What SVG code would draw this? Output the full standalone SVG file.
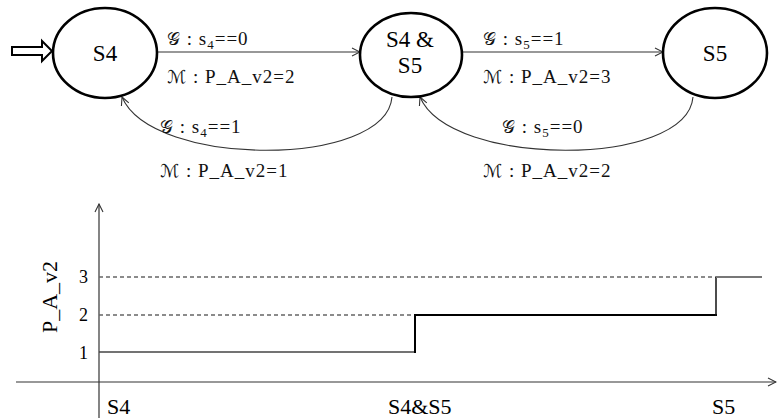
<svg xmlns="http://www.w3.org/2000/svg" width="778" height="418" viewBox="0 0 778 418">
<style>
.node ellipse{fill:#fff;stroke:#000;stroke-width:2.6}
.nt{font-family:'Liberation Serif','Times New Roman',Times,'DejaVu Serif',serif;font-size:23px;fill:#000;text-anchor:middle}
.lb{font-family:'Liberation Serif','Times New Roman',Times,'DejaVu Serif',serif;font-size:19px;fill:#111;letter-spacing:1px}
.sym{font-family:'DejaVu Serif','DejaVu Sans',serif;font-size:18px;font-weight:normal}
.sub{font-size:13px}
.edge{fill:none;stroke:#333;stroke-width:1.1}
.ax{fill:none;stroke:#333;stroke-width:1.2}
.dash{fill:none;stroke:#666;stroke-width:1.5;stroke-dasharray:4 3}
.tk{font-family:'Liberation Serif','Times New Roman',Times,'DejaVu Serif',serif;font-size:18px;fill:#000}
.xl{font-family:'Liberation Serif','Times New Roman',Times,'DejaVu Serif',serif;font-size:22px;fill:#000}
</style>
<defs>
<marker id="ah" markerWidth="10" markerHeight="10" refX="9" refY="5" orient="auto" markerUnits="userSpaceOnUse">
<path d="M1,1 L9,5 L1,9" fill="none" stroke="#333" stroke-width="1.1"/>
</marker>
</defs>

<g id="start">
<polygon points="12,47 42,47 42,41 52,51 42,61 42,55 12,55" fill="#fff" stroke="#000" stroke-width="2"/>
</g>

<g id="connectors">
<path id="e1" class="edge" d="M157,52 L360,52" marker-end="url(#ah)"/>
<path id="e2" class="edge" d="M462,52 L663,52" marker-end="url(#ah)"/>
<path id="e3" class="edge" d="M392,97 C386,168 152,168 122,97" marker-end="url(#ah)"/>
<path id="e4" class="edge" d="M693,97 C687,168 450,168 420,97" marker-end="url(#ah)"/>
</g>

<g id="node-s4" class="node">
<ellipse cx="105" cy="53" rx="52" ry="45"/>
<text class="nt" x="105" y="61">S4</text>
</g>
<g id="node-s4s5" class="node">
<ellipse cx="411" cy="55" rx="51" ry="42"/>
<text class="nt" x="410" y="47">S4 &amp;</text>
<text class="nt" x="410" y="73">S5</text>
</g>
<g id="node-s5" class="node">
<ellipse cx="715" cy="53" rx="52" ry="45"/>
<text class="nt" x="715" y="61">S5</text>
</g>

<g id="labels">
<text class="lb" x="167" y="45"><tspan class="sym">𝒢</tspan> : s<tspan class="sub" dy="4">4</tspan><tspan dy="-4">==0</tspan></text>
<text class="lb" x="167" y="83"><tspan class="sym">ℳ</tspan> : P_A_v2=2</text>
<text class="lb" x="160" y="133"><tspan class="sym">𝒢</tspan> : s<tspan class="sub" dy="4">4</tspan><tspan dy="-4">==1</tspan></text>
<text class="lb" x="160" y="177"><tspan class="sym">ℳ</tspan> : P_A_v2=1</text>
<text class="lb" x="483" y="45"><tspan class="sym">𝒢</tspan> : s<tspan class="sub" dy="4">5</tspan><tspan dy="-4">==1</tspan></text>
<text class="lb" x="483" y="83"><tspan class="sym">ℳ</tspan> : P_A_v2=3</text>
<text class="lb" x="502" y="133"><tspan class="sym">𝒢</tspan> : s<tspan class="sub" dy="4">5</tspan><tspan dy="-4">==0</tspan></text>
<text class="lb" x="483" y="177"><tspan class="sym">ℳ</tspan> : P_A_v2=2</text>
</g>

<g id="chart">
<line class="ax" x1="99" y1="418" x2="99" y2="204" marker-end="url(#ah)"/>
<line class="ax" x1="16" y1="382" x2="776" y2="382" marker-end="url(#ah)"/>
<line class="dash" x1="99" y1="277" x2="716" y2="277"/>
<line class="dash" x1="99" y1="315" x2="415" y2="315"/>
<line x1="99" y1="352" x2="415" y2="352" stroke="#444" stroke-width="1.4"/>
<line x1="415" y1="353" x2="415" y2="315" stroke="#000" stroke-width="2"/>
<line x1="414" y1="315" x2="717" y2="315" stroke="#000" stroke-width="2.2"/>
<line x1="716" y1="316" x2="716" y2="277" stroke="#111" stroke-width="1.5"/>
<line x1="716" y1="277" x2="762" y2="277" stroke="#777" stroke-width="2"/>
<text class="tk" x="88" y="283" text-anchor="end">3</text>
<text class="tk" x="88" y="321" text-anchor="end">2</text>
<text class="tk" x="88" y="359" text-anchor="end">1</text>
<text class="xl" x="57" y="297" text-anchor="middle" transform="rotate(-90 57 297)">P_A_v2</text>
<text class="xl" x="107" y="414">S4</text>
<text class="xl" x="388" y="414">S4&amp;S5</text>
<text class="xl" x="712" y="414">S5</text>
</g>
</svg>
